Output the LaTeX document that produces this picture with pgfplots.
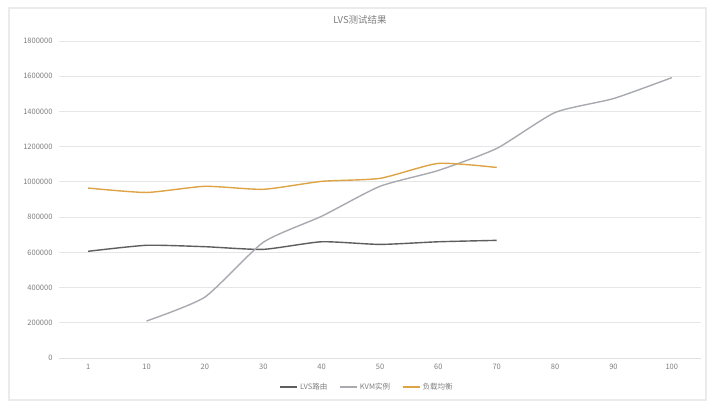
\documentclass[border=0pt]{standalone}
\usepackage{pgfplots}
\pgfplotsset{compat=1.18}
\usepackage{fontspec}
\setmainfont{Noto Sans CJK SC}
\definecolor{txtgray}{HTML}{7F7F7F}
\definecolor{gridgray}{HTML}{E6E6E6}
\definecolor{sdark}{HTML}{5E5E5E}
\definecolor{sorange}{HTML}{DDA445}
\definecolor{sgray}{HTML}{A8AAB0}
\begin{document}
\begin{tikzpicture}
\path[use as bounding box] (0pt,0pt) rectangle (720pt,408pt);
\fill[white] (0pt,0pt) rectangle (720pt,408pt);
\draw[gridgray!80,line width=1.2pt] (9pt,8pt) rectangle (706pt,400pt);
\node[font=\fontsize{9.5}{11}\selectfont, text=txtgray] at (360pt,388pt) {LVS测试结果};
\begin{axis}[
  at={(59pt,50pt)}, anchor=south west,
  scale only axis, width=642pt, height=317pt,
  xmin=-0.5, xmax=10.5, ymin=0, ymax=1800000,
  xtick={0,...,10},
  xticklabels={1,10,20,30,40,50,60,70,80,90,100},
  ytick={0,200000,...,1800000},
  scaled y ticks=false,
  /pgf/number format/assume math mode=true,
  yticklabel={\pgfmathprintnumber[fixed,1000 sep={}]{\tick}},
  ticklabel style={font=\fontsize{7.5}{9}\selectfont, text=txtgray},
  xticklabel style={yshift=-3pt},
  yticklabel style={xshift=-3pt},
  axis x line*=bottom, axis y line*=left,
  x axis line style={gridgray!120, line width=0.8pt, -},
  y axis line style={draw=none},
  major tick length=0pt,
  ymajorgrids, grid style={gridgray, line width=0.8pt},
  legend style={at={(0.48,0)}, anchor=north, yshift=-21pt, draw=none,
    fill=none, font=\fontsize{7.5}{9}\selectfont, text=txtgray,
    legend columns=3, /tikz/every even column/.append style={column sep=10pt}},
  legend image code/.code={\draw[#1,line width=1.5pt] (0,0) -- (0.6cm,0);},
  every axis plot/.append style={line width=1.4pt, smooth, tension=0.35, no markers},
]
\addplot[sdark] coordinates {
  (0,606000) (1,640000) (2,632000) (3,617000) (4,660000) (5,645000) (6,660000) (7,668000)};
\addlegendentry{LVS路由}
\addplot[sgray] coordinates {
  (1,210000) (2,346000) (3,657000) (4,805000) (5,975000) (6,1065000) (7,1190000) (8,1394000) (9,1473000) (10,1592000)};
\addlegendentry{KVM实例}
\addplot[sorange] coordinates {
  (0,965000) (1,940000) (2,975000) (3,958000) (4,1003000) (5,1020000) (6,1105000) (7,1082000)};
\addlegendentry{负载均衡}
\end{axis}
\end{tikzpicture}
\end{document}
